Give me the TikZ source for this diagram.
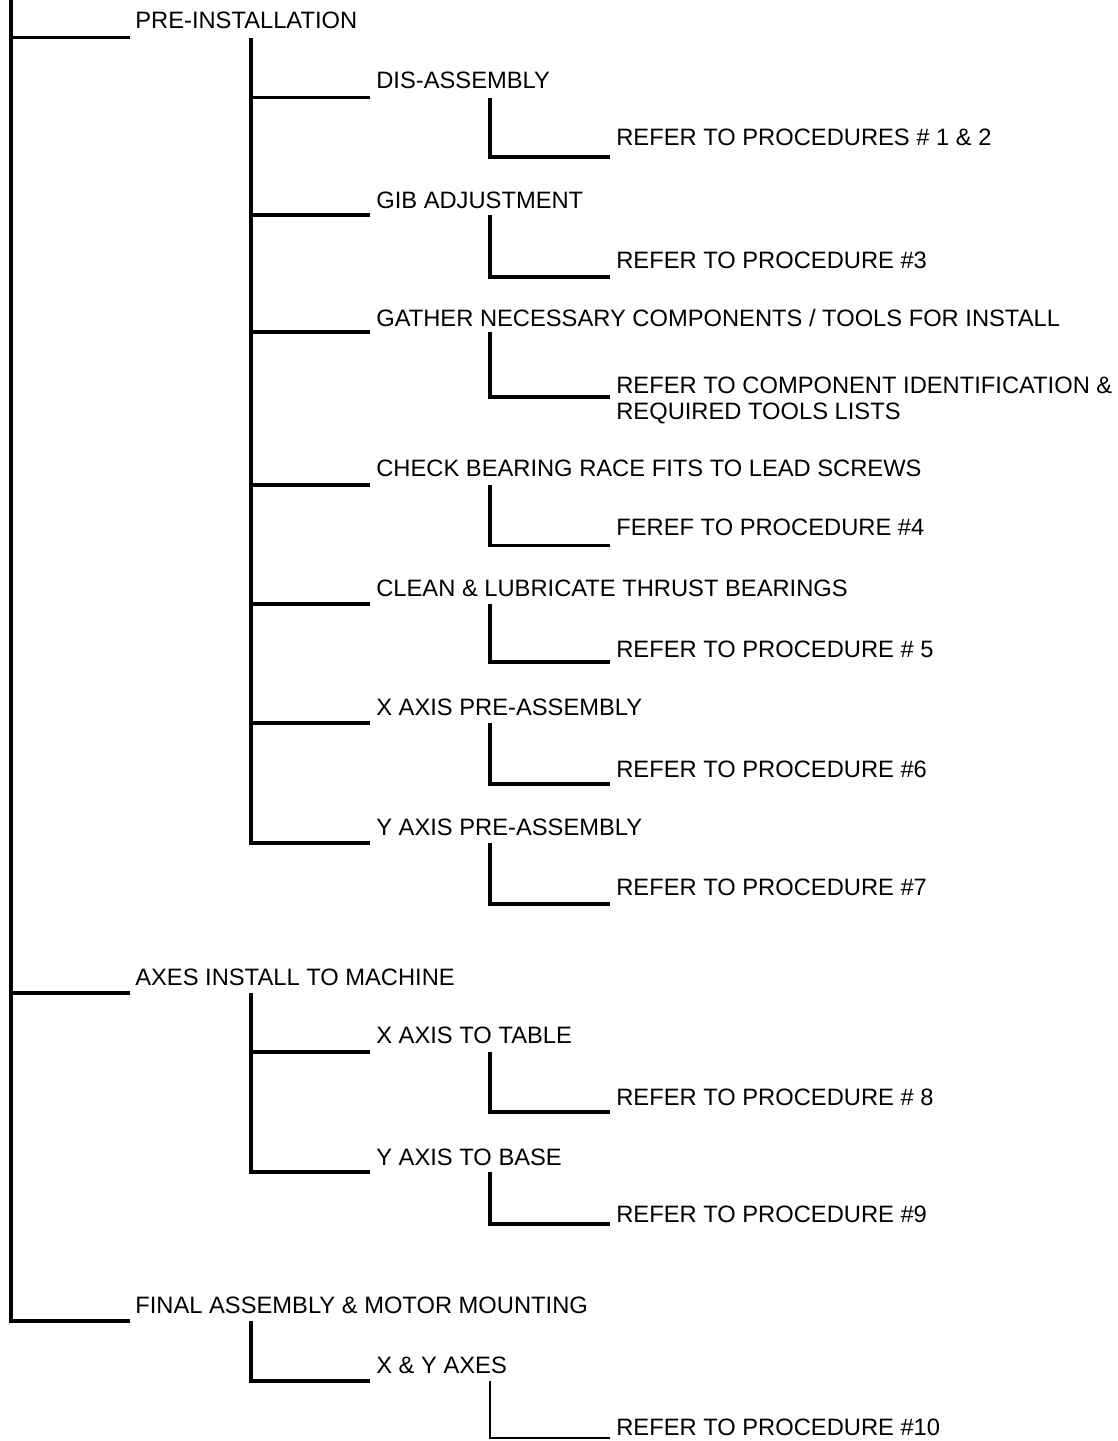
\documentclass[tikz,border=0pt]{standalone}
\usepackage{fontspec}
\setmainfont{Liberation Sans}

\begin{document}
\begin{tikzpicture}[
  x=0.02cm,y=-0.02cm,
  wire/.style={draw=black,line width=2pt},
  thin wire/.style={draw=black,line width=1.1pt},
  item/.style={anchor=base west,inner sep=0pt,font=\fontsize{13.5}{14.4}\selectfont}
]
\useasboundingbox (0,0) rectangle (1118,1441);

% columns of the outline
\coordinate (trunk) at (11,0);
\coordinate (col2) at (251,0);
\coordinate (col3) at (490,0);

% Top level steps.
\coordinate (pre-e) at (130,37.5);
\node[item] (pre) at (135,28.5) {PRE-INSTALLATION};
\coordinate (axes-e) at (130,993);
\node[item] (axes) at (135,985) {AXES INSTALL TO MACHINE};
\coordinate (final-e) at (130,1321);
\node[item] (final) at (135,1313) {FINAL ASSEMBLY \& MOTOR MOUNTING};

% Second level: tasks.
\coordinate (dis-e) at (370,97.5);
\node[item] (dis) at (376,88) {DIS-ASSEMBLY};
\coordinate (gib-e) at (370,215);
\node[item] (gib) at (376,208) {GIB ADJUSTMENT};
\coordinate (gather-e) at (370,332);
\node[item] (gather) at (376,326) {GATHER NECESSARY COMPONENTS / TOOLS FOR INSTALL};
\coordinate (check-e) at (370,485);
\node[item] (check) at (376,476.5) {CHECK BEARING RACE FITS TO LEAD SCREWS};
\coordinate (clean-e) at (370,604);
\node[item] (clean) at (376,596.5) {CLEAN \& LUBRICATE THRUST BEARINGS};
\coordinate (xpre-e) at (370,723);
\node[item] (xpre) at (376,715) {X AXIS PRE-ASSEMBLY};
\coordinate (ypre-e) at (370,843);
\node[item] (ypre) at (376,835) {Y AXIS PRE-ASSEMBLY};
\coordinate (xtable-e) at (370,1052);
\node[item] (xtable) at (376,1043.5) {X AXIS TO TABLE};
\coordinate (ybase-e) at (370,1172);
\node[item] (ybase) at (376,1165) {Y AXIS TO BASE};
\coordinate (xy-e) at (370,1381);
\node[item] (xy) at (376,1373) {X \& Y AXES};

% Third level: procedure references.
\coordinate (p12-e) at (610,157);
\node[item] (p12) at (616,145.5) {REFER TO PROCEDURES \# 1 \& 2};
\coordinate (p3-e) at (610,277);
\node[item] (p3) at (616,268) {REFER TO PROCEDURE \#3};
\coordinate (comp-e) at (610,397);
\node[item,anchor=north west,align=left] (comp) at (616,377)
  {REFER TO COMPONENT IDENTIFICATION \&\\REQUIRED TOOLS LISTS};
\coordinate (p4-e) at (610,545.5);
\node[item] (p4) at (616,535) {FEREF TO PROCEDURE \#4};
\coordinate (p5-e) at (610,662);
\node[item] (p5) at (616,657) {REFER TO PROCEDURE \# 5};
\coordinate (p6-e) at (610,784);
\node[item] (p6) at (616,777) {REFER TO PROCEDURE \#6};
\coordinate (p7-e) at (610,904);
\node[item] (p7) at (616,895) {REFER TO PROCEDURE \#7};
\coordinate (p8-e) at (610,1112);
\node[item] (p8) at (616,1105) {REFER TO PROCEDURE \# 8};
\coordinate (p9-e) at (610,1224);
\node[item] (p9) at (616,1222) {REFER TO PROCEDURE \#9};
\coordinate (p10-e) at (610,1438);
\node[item] (p10) at (616,1435) {REFER TO PROCEDURE \#10};

% connectors
\draw[wire] (trunk) |- (final-e);
\draw[wire] (trunk |- pre-e) -- (pre-e);
\draw[wire] (trunk |- axes-e) -- (axes-e);

\draw[wire] (col2 |- pre-e) |- (ypre-e);
\foreach \c in {dis,gib,gather,check,clean,xpre}
  \draw[wire] (col2 |- \c-e) -- (\c-e);
\draw[wire] (col2 |- axes-e) |- (ybase-e);
\draw[wire] (col2 |- xtable-e) -- (xtable-e);
\draw[wire] (col2 |- final-e) |- (xy-e);

\foreach \p/\c in {dis/p12,gib/p3,gather/comp,check/p4,clean/p5,xpre/p6,ypre/p7,xtable/p8,ybase/p9}
  \draw[wire] (col3 |- \p-e) |- (\c-e);
\draw[thin wire] (col3 |- xy-e) |- (p10-e);
\end{tikzpicture}
\end{document}
